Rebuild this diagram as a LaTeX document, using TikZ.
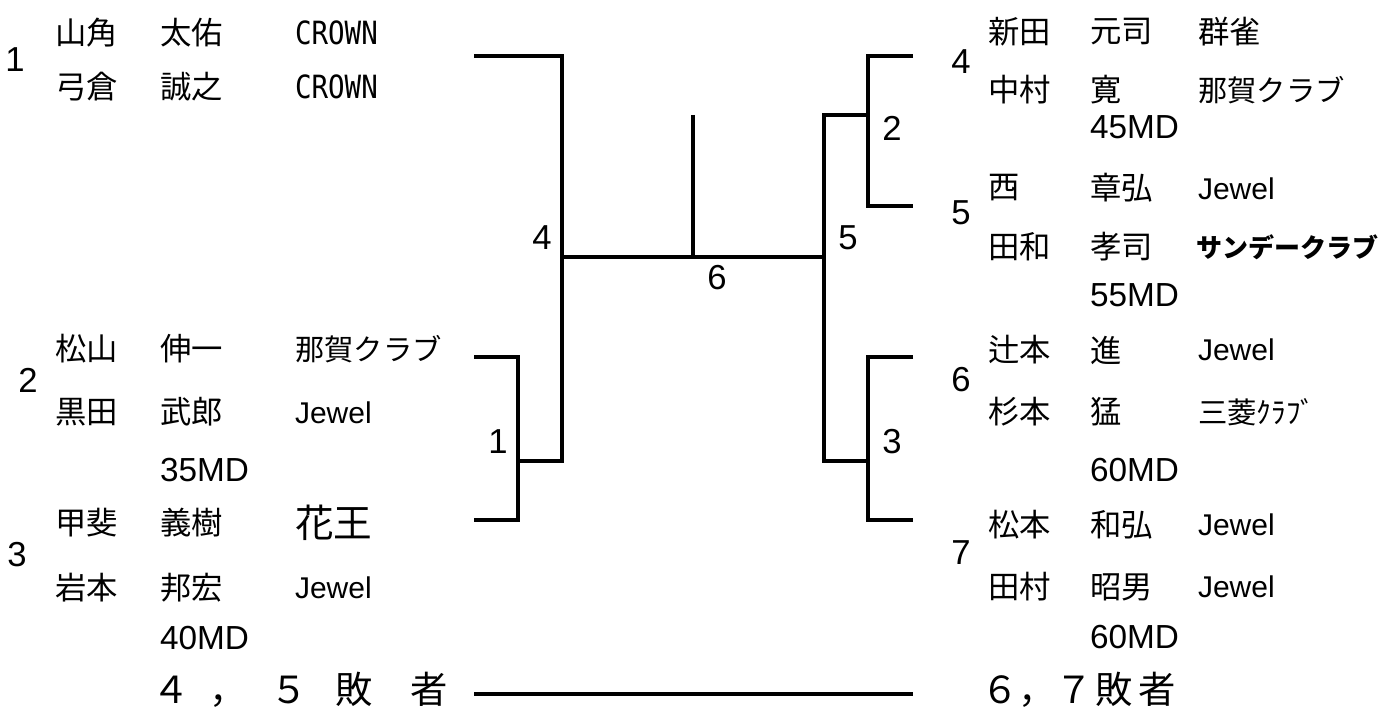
\documentclass[tikz,border=0pt]{standalone}
\usepackage{fontspec}
\setmainfont{Noto Sans CJK JP}
\newfontfamily\arialfont{Liberation Sans}
\newfontfamily\dejamono{DejaVu Sans Mono}
\newcommand*{\namefont}{\fontsize{23.5}{28}\selectfont}
\newcommand*{\clubfont}{\fontsize{22}{26}\selectfont}
\newcommand*{\jewelfont}{\arialfont\fontsize{22.5}{26}\selectfont}
\newcommand*{\crownfont}{\dejamono\fontsize{24}{28}\selectfont}
\newcommand*{\mdsizefont}{\arialfont\fontsize{25}{30}\selectfont}
\newcommand*{\seedfont}{\arialfont\fontsize{26}{30}\selectfont}
\newcommand*{\loserfont}{\fontsize{28}{33}\selectfont}
\usepackage{tikz}
\usetikzlibrary{positioning}
\tikzstyle{base}=[inner sep=0pt, outer sep=0pt]
\tikzstyle{player}=[anchor=west, font=\namefont]
\tikzstyle{club}=[anchor=west, font=\clubfont]
\tikzstyle{jewel}=[anchor=west, font=\jewelfont]
\tikzstyle{crown}=[anchor=west, font=\crownfont]
\tikzstyle{mdlabel}=[anchor=west, font=\mdsizefont]
\tikzstyle{seed}=[font=\seedfont]
\tikzstyle{bracket}=[line width=3pt, black]

\begin{document}
\begin{tikzpicture}[base, x=0.75pt, y=-0.75pt]
    \path [use as bounding box] (0,0) rectangle (1383,709);
    % left side
    \node [seed] (s1) at (15,60) {1};
    \node [player] (l1a) at (55,33) {山角};
    \node [player] (l1b) at (160,33) {太佑};
    \node [crown] (l1c) at (295,33) {\scalebox{0.86}[1]{CROWN}};
    \node [player] (l1d) at (55,87) {弓倉};
    \node [player] (l1e) at (160,87) {誠之};
    \node [crown] (l1f) at (295,87) {\scalebox{0.86}[1]{CROWN}};
    \node [seed] (s2) at (28,380) {2};
    \node [player] (l2a) at (55,349) {松山};
    \node [player] (l2b) at (160,349) {伸一};
    \node [club] (l2c) at (295,349) {那賀クラブ};
    \node [player] (l2d) at (55,412) {黒田};
    \node [player] (l2e) at (160,412) {武郎};
    \node [jewel] (l2f) at (295,413) {Jewel};
    \node [mdlabel] (l2g) at (160,470) {35MD};
    \node [seed] (s3) at (17,555) {3};
    \node [player] (l3a) at (55,523) {甲斐};
    \node [player] (l3b) at (160,523) {義樹};
    \node [anchor=west, font=\fontsize{29}{34}\selectfont] (l3c) at (295,523) {花王};
    \node [player] (l3d) at (55,588) {岩本};
    \node [player] (l3e) at (160,588) {邦宏};
    \node [jewel] (l3f) at (295,588) {Jewel};
    \node [mdlabel] (l3g) at (160,638) {40MD};
    \node [anchor=west, font=\loserfont] (lose45) at (152,690) {４\hspace{15pt}，\hspace{18pt}５\hspace{21pt}敗\hspace{28pt}者};
    % right side
    \node [seed] (s4) at (961,62) {4};
    \node [player] (r4a) at (988,32) {新田};
    \node [player] (r4b) at (1090,32) {元司};
    \node [player] (r4c) at (1198,32) {群雀};
    \node [player] (r4d) at (988,90) {中村};
    \node [player] (r4e) at (1090,90) {寛};
    \node [club] (r4f) at (1198,90) {那賀クラブ};
    \node [mdlabel] (r4g) at (1090,127) {45MD};
    \node [seed] (s5) at (961,213) {5};
    \node [player] (r5a) at (988,188) {西};
    \node [player] (r5b) at (1090,188) {章弘};
    \node [jewel] (r5c) at (1198,189) {Jewel};
    \node [player] (r5d) at (988,247) {田和};
    \node [player] (r5e) at (1090,247) {孝司};
    \node [anchor=west, font=\fontsize{19.5}{24}\selectfont\bfseries] (r5f) at (1196,247) {サンデークラブ};
    \node [mdlabel] (r5g) at (1090,295) {55MD};
    \node [seed] (s6) at (961,380) {6};
    \node [player] (r6a) at (988,350) {辻本};
    \node [player] (r6b) at (1090,350) {進};
    \node [jewel] (r6c) at (1198,350) {Jewel};
    \node [player] (r6d) at (988,412) {杉本};
    \node [player] (r6e) at (1090,412) {猛};
    \node [club] (r6f) at (1198,412) {三菱ｸﾗﾌﾞ};
    \node [mdlabel] (r6g) at (1090,470) {60MD};
    \node [seed] (s7) at (961,553) {7};
    \node [player] (r7a) at (988,525) {松本};
    \node [player] (r7b) at (1090,525) {和弘};
    \node [jewel] (r7c) at (1198,525) {Jewel};
    \node [player] (r7d) at (988,587) {田村};
    \node [player] (r7e) at (1090,587) {昭男};
    \node [jewel] (r7f) at (1198,587) {Jewel};
    \node [mdlabel] (r7g) at (1090,637) {60MD};
    \node [anchor=west, font=\loserfont] (lose67) at (981,690) {６，７\hspace{2pt}敗\hspace{4pt}者};
    % bracket
        \draw [bracket] (474,56) -- (562,56) -- (562,461) -- (518,461);
        \draw [bracket] (474,357) -- (518,357) -- (518,520) -- (474,520);
        \draw [bracket] (562,257) -- (824,257);
        \draw [bracket] (693,115) -- (693,257);
        \draw [bracket] (868,115) -- (824,115) -- (824,461) -- (868,461);
        \draw [bracket] (913,56) -- (868,56) -- (868,206) -- (913,206);
        \draw [bracket] (913,357) -- (868,357) -- (868,520) -- (913,520);
    \node [seed] (m4) at (542,238) {4};
    \node [seed] (m6) at (717,278) {6};
    \node [seed] (m5) at (848,238) {5};
    \node [seed] (m2) at (892,128) {2};
    \node [seed] (m1) at (498,442) {1};
    \node [seed] (m3) at (892,442) {3};
    % losers line
    \coordinate (loseL) at (474,694);
    \coordinate (loseR) at (913,694);
        \draw [bracket] (loseL) -- (loseR);
\end{tikzpicture}
\end{document}
